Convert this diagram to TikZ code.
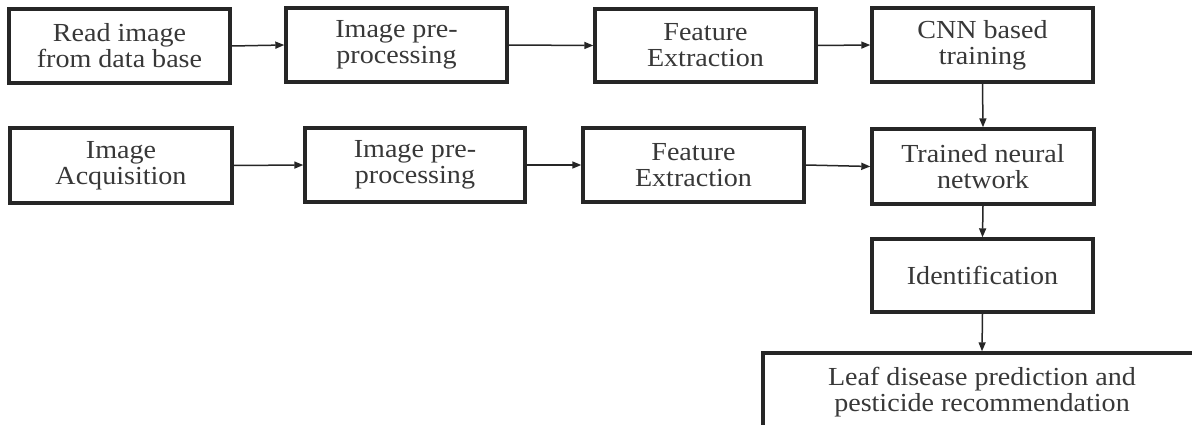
\documentclass[tikz,border=0pt]{standalone}
\usepackage{fontspec}
\setmainfont{Liberation Serif}[FakeStretch=1.08]
\usetikzlibrary{arrows.meta}
\tikzset{
  boxtext/.style={text=black!78, font=\fontsize{26}{26}\selectfont, align=center},
  box/.style={boxtext, draw=black!85, line width=3.4pt, fill=white, inner sep=0pt},
  conn/.style={draw=black!85, line width=1.5pt, -{Triangle[length=9pt,width=7pt]}}
}
\begin{document}
\begin{tikzpicture}[x=1pt,y=-1pt]
\useasboundingbox (0,0) rectangle (1192,425);
\clip (0,0) rectangle (1192,425);
\fill[white] (0,0) rectangle (1192,425);
% row 1
\node[box, minimum width=221pt, minimum height=74pt] (A) at (119.5,46) {Read image\\from data base};
\node[box, minimum width=221pt, minimum height=74pt] (B) at (396.5,45) {Image pre-\\processing};
\node[box, minimum width=221pt, minimum height=73pt] (C) at (705.5,45.5) {Feature\\Extraction};
\node[box, minimum width=221pt, minimum height=74pt] (D) at (982.5,45) {CNN based\\training};
% row 2
\node[box, minimum width=222pt, minimum height=75pt] (E) at (121,165.5) {Image\\Acquisition};
\node[box, minimum width=220pt, minimum height=74pt] (F) at (415,165) {Image pre-\\processing};
\node[box, minimum width=221pt, minimum height=74pt] (G) at (693.5,165) {Feature\\Extraction};
\node[box, minimum width=222pt, minimum height=75pt] (H) at (983,166.5) {Trained neural\\network};
% column
\node[box, minimum width=221pt, minimum height=73pt] (I) at (982.5,275.5) {Identification};
\node[box, minimum width=438pt, minimum height=88pt] (J) at (982,397) {};
\node[boxtext, anchor=north] (Jt) at (982,364) {Leaf disease prediction and\\pesticide recommendation};
% connectors
\draw[conn] (A.east) -- (B.west);
\draw[conn] (B.east) -- (C.west);
\draw[conn] (C.east) -- (D.west);
\draw[conn] (E.east) -- (F.west);
\draw[conn] (F.east) -- (G.west);
\draw[conn] (G.east) -- (H.west);
\draw[conn] (D.south) -- (H.north);
\draw[conn] (H.south) -- (I.north);
\draw[conn] (I.south) -- (J.north);
\end{tikzpicture}
\end{document}
